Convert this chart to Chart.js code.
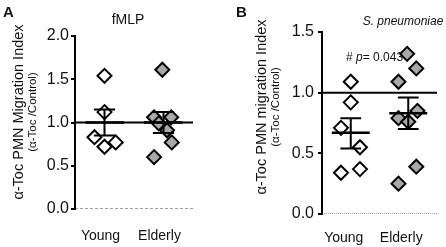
<!DOCTYPE html>
<html>
<head>
<meta charset="utf-8">
<script src="https://cdn.jsdelivr.net/npm/chart.js@4"></script>
<style>
  body { margin: 0; background: #fff; width: 446px; height: 247px; overflow: hidden; }
  canvas { position: absolute; top: 0; }
</style>
</head>
<body>
<canvas id="chartA" width="223" height="247" style="left:0"></canvas>
<canvas id="chartB" width="223" height="247" style="left:223px"></canvas>
<script>
const groups = ['Young', 'Elderly'];

// A - fMLP
const fmlpYoung = [1.54, 1.12, 0.83, 0.72, 0.77];
const fmlpYoungJitter = [0, 0, -0.17, 0, 0.19];
const fmlpElderly = [1.61, 1.06, 1.06, 0.99, 0.91, 0.77, 0.60];
const fmlpElderlyJitter = [-0.02, -0.16, 0.13, -0.08, 0.06, 0.14, -0.16];
const fmlpMean = [1.0, 1.0];
const fmlpSemLow = [0.85, 0.88];
const fmlpSemHigh = [1.15, 1.12];
const fmlpTicks = [0, 0.5, 1.0, 1.5, 2.0];

// B - S. pneumoniae
const spnYoung = [1.09, 0.92, 0.71, 0.55, 0.34, 0.37];
const spnYoungJitter = [0, 0, -0.17, 0.16, -0.17, 0.16];
const spnElderly = [1.32, 1.20, 1.09, 0.85, 0.79, 0.76, 0.39, 0.25];
const spnElderlyJitter = [-0.02, 0.14, -0.17, 0.16, -0.17, 0, 0.14, -0.17];
const spnMean = [0.67, 0.83];
const spnSemLow = [0.54, 0.70];
const spnSemHigh = [0.79, 0.96];
const spnTicks = [0, 0.5, 1.0, 1.5];

const FONT = '"Liberation Sans", Arial, sans-serif';

function points(vals, jitter, pos) {
  return vals.map((v, i) => ({ x: pos + jitter[i], y: v }));
}

// SEM whiskers, segments split with null gaps
function semLines(mean, low, high) {
  const pts = [];
  mean.forEach((m, i) => {
    const c = i + 1;
    pts.push({ x: c - 0.18, y: high[i] }, { x: c + 0.18, y: high[i] }, { x: c, y: null });
    pts.push({ x: c - 0.18, y: low[i] }, { x: c + 0.18, y: low[i] }, { x: c, y: null });
    pts.push({ x: c, y: low[i] }, { x: c, y: high[i] }, { x: c, y: null });
  });
  return pts;
}
function meanLines(mean) {
  const pts = [];
  mean.forEach((m, i) => {
    const c = i + 1;
    pts.push({ x: c - 0.33, y: m }, { x: c + 0.33, y: m }, { x: c, y: null });
  });
  return pts;
}

const panelText = {
  id: 'panelText',
  afterDraw(chart, args, o) {
    const ctx = chart.ctx;
    ctx.save();
    ctx.fillStyle = '#111';
    ctx.textBaseline = 'top';
    ctx.font = 'bold 15px ' + FONT;
    ctx.fillText(o.letter, o.letterX, 5);

    ctx.textAlign = 'center';
    ctx.textBaseline = 'middle';
    ctx.font = (o.italic ? 'italic ' : '') + o.titleSize + 'px ' + FONT;
    ctx.fillText(o.title, o.titleX, o.titleY);

    ctx.save();
    ctx.translate(o.yTitleX, o.yTitleY);
    ctx.rotate(-Math.PI / 2);
    ctx.font = '14.5px ' + FONT;
    ctx.fillText(o.yTitle, 0, 0);
    ctx.restore();
    ctx.save();
    ctx.translate(o.ySubX, o.yTitleY);
    ctx.rotate(-Math.PI / 2);
    ctx.font = '11.5px ' + FONT;
    ctx.fillText('(\u03b1-Toc /Control)', 0, 0);
    ctx.restore();

    if (o.note) {
      ctx.textAlign = 'left';
      let x = o.noteX;
      const parts = [['# ', ''], ['p', 'italic '], ['= 0.043', '']];
      parts.forEach(p => {
        ctx.font = p[1] + '12px ' + FONT;
        ctx.fillText(p[0], x, o.noteY);
        x += ctx.measureText(p[0]).width;
      });
    }
    ctx.restore();
  }
};

function makeChart(id, cfg) {
  const ctx = document.getElementById(id).getContext('2d');
  return new Chart(ctx, {
    type: 'scatter',
    data: {
      datasets: [
        { data: meanLines(cfg.mean), showLine: true, borderColor: '#000', borderWidth: 2.5, pointRadius: 0 },
        { data: semLines(cfg.mean, cfg.low, cfg.high), showLine: true, borderColor: '#000', borderWidth: 2, pointRadius: 0 },
        { data: [{ x: 0.5, y: 1 }, { x: 2.5, y: 1 }], showLine: true, borderColor: '#000', borderWidth: 2, pointRadius: 0 },
        { data: [{ x: 0.5, y: 0 }, { x: 2.5, y: 0 }], showLine: true, borderColor: '#444', borderWidth: 1, borderDash: cfg.dash, pointRadius: 0 },
        { data: points(cfg.young, cfg.youngJitter, 1), pointStyle: 'rectRot', radius: 7,
          backgroundColor: '#fff', borderColor: '#000', borderWidth: 2 },
        { data: points(cfg.elderly, cfg.elderlyJitter, 2), pointStyle: 'rectRot', radius: 7,
          backgroundColor: '#a8a8a8', borderColor: '#000', borderWidth: 2 }
      ]
    },
    options: {
      responsive: false,
      animation: false,
      layout: { padding: { top: cfg.top, right: cfg.right, left: 0, bottom: 0 } },
      plugins: {
        legend: { display: false },
        tooltip: { enabled: false },
        panelText: cfg.text
      },
      scales: {
        x: {
          type: 'linear', min: 0.5, max: 2.5,
          grid: { display: false },
          border: { display: false },
          afterBuildTicks: s => { s.ticks = [{ value: 1 }, { value: 2 }]; },
          ticks: { callback: v => groups[v - 1], font: { size: 14, family: FONT }, color: '#111',
                   padding: cfg.xPad, labelOffset: cfg.labelOffset, maxRotation: 0 },
          afterFit: s => { s.height = cfg.xHeight; }
        },
        y: {
          min: 0, max: cfg.max,
          afterBuildTicks: s => { s.ticks = cfg.ticks.map(v => ({ value: v })); },
          ticks: { callback: v => v.toFixed(1), font: { size: 16, family: FONT }, color: '#111', padding: cfg.yPad },
          grid: { drawOnChartArea: false, tickLength: 4, color: '#000', lineWidth: 2 },
          border: { color: '#000', width: 2 },
          afterFit: s => { s.width = cfg.axisX; }
        }
      }
    },
    plugins: [panelText]
  });
}

makeChart('chartA', {
  young: fmlpYoung, youngJitter: fmlpYoungJitter,
  elderly: fmlpElderly, elderlyJitter: fmlpElderlyJitter,
  mean: fmlpMean, low: fmlpSemLow, high: fmlpSemHigh,
  max: 2.0, ticks: fmlpTicks, dash: [3, 2],
  top: 36, right: 30, axisX: 75, xHeight: 38, xPad: 11, labelOffset: -4, yPad: 2,
  text: { letter: 'A', letterX: 3, title: 'fMLP', titleSize: 14, italic: false, titleX: 128, titleY: 20,
          yTitle: '\u03b1-Toc PMN Migration Index', yTitleX: 19, ySubX: 33, yTitleY: 112 }
});

makeChart('chartB', {
  young: spnYoung, youngJitter: spnYoungJitter,
  elderly: spnElderly, elderlyJitter: spnElderlyJitter,
  mean: spnMean, low: spnSemLow, high: spnSemHigh,
  max: 1.5, ticks: spnTicks, dash: [1, 1],
  top: 32, right: 1, axisX: 99, xHeight: 33, xPad: 8, labelOffset: -7, yPad: 4,
  text: { letter: 'B', letterX: 13, title: 'S. pneumoniae', titleSize: 12, italic: true, titleX: 180, titleY: 22,
          yTitle: '\u03b1-Toc PMN migration Index', yTitleX: 39, ySubX: 53, yTitleY: 107,
          note: true, noteX: 123, noteY: 58 }
});
</script>
</body>
</html>
